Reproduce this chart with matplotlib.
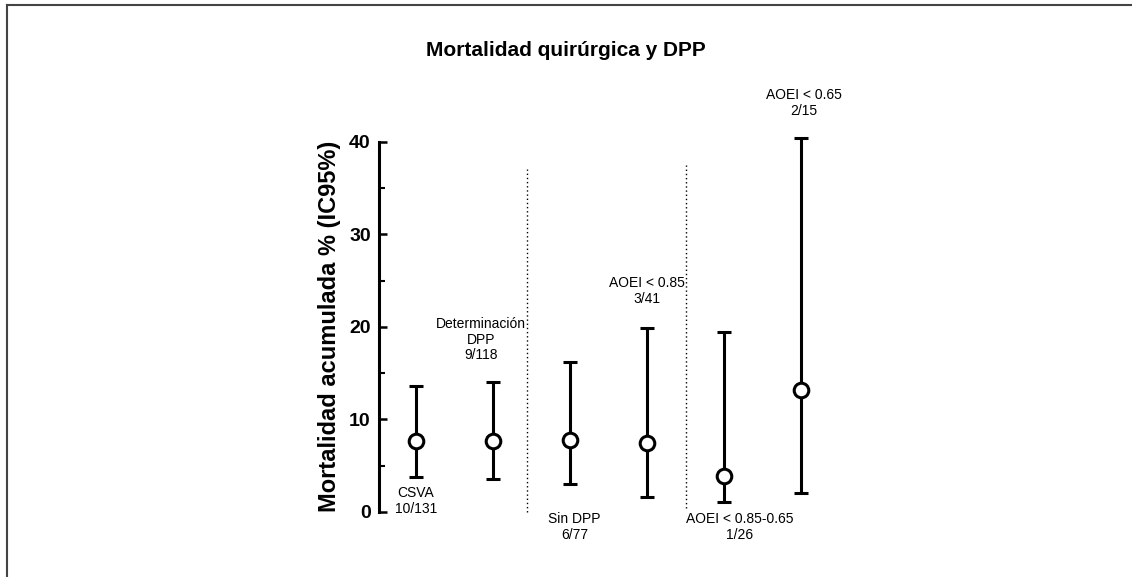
import matplotlib
matplotlib.use("Agg")
import matplotlib.pyplot as plt
from matplotlib.lines import Line2D

# datos
grupos = ["CSVA", "Determinación\nDPP", "Sin DPP", "AOEI < 0.85", "AOEI < 0.85-0.65", "AOEI < 0.65"]
casos = ["10/131", "9/118", "6/77", "3/41", "1/26", "2/15"]
mortalidad = [7.7, 7.7, 7.8, 7.4, 3.9, 13.2]
ic_inf = [3.8, 3.6, 3.0, 1.6, 1.1, 2.0]
ic_sup = [13.6, 14.0, 16.2, 19.9, 19.4, 40.4]

narrow = ["Liberation Sans Narrow", "Liberation Sans", "DejaVu Sans"]
arial = ["Liberation Sans", "DejaVu Sans"]

fig = plt.figure(figsize=(11.32, 5.77), dpi=100)
ax = fig.add_axes([379 / 1132, 65 / 577, 480 / 1132, 370.3 / 577])

x = list(range(1, len(grupos) + 1))
err = [[m - lo for m, lo in zip(mortalidad, ic_inf)],
       [hi - m for m, hi in zip(mortalidad, ic_sup)]]
ax.errorbar(x, mortalidad, yerr=err, fmt="o", color="black", ecolor="black",
            elinewidth=2.2, capsize=5, capthick=2.2, markersize=10.5,
            markerfacecolor="white", markeredgewidth=2.2, markeredgecolor="black",
            clip_on=False, zorder=3)

# separadores punteados
ax.plot([2.44, 2.44], [0, 37.1], ls=(0, (1, 2)), color="black", lw=1.0, clip_on=False)
ax.plot([4.51, 4.51], [0.4, 37.5], ls=(0, (1, 2)), color="black", lw=1.0, clip_on=False)

# etiquetas de grupo
pos = [(1.0, 1.2), (1.84, 18.6), (3.06, -1.6), (4.0, 23.9), (5.2, -1.6), (6.04, 44.2)]
for (px, py), g, c in zip(pos, grupos, casos):
    ax.text(px, py, g + "\n" + c, ha="center", va="center", fontsize=10,
            family=narrow, linespacing=1.15, clip_on=False)

ax.set_xlim(0.52, 0.52 + 480 / 77)
ax.set_ylim(0, 40)
ax.set_yticks([0, 10, 20, 30, 40])
ax.set_yticks([5, 15, 25, 35], minor=True)
ax.set_xticks([])
for s in ["top", "right", "bottom"]:
    ax.spines[s].set_visible(False)
ax.spines["left"].set_linewidth(2.2)
ax.tick_params(axis="y", which="major", direction="in", length=6, width=1.8, pad=6)
ax.tick_params(axis="y", which="minor", direction="in", length=4, width=1.5)
for t in ax.get_yticklabels():
    t.set_fontsize(14)
    t.set_fontweight("bold")
    t.set_family(arial)
ax.set_ylabel("Mortalidad acumulada % (IC95%)", fontsize=17, fontweight="bold",
              family=arial, labelpad=6)

fig.text(566 / 1132, 1 - 50 / 577, "Mortalidad quirúrgica y DPP", ha="center", va="center",
         fontsize=15, fontweight="bold", family=narrow)

# marco exterior
fig.add_artist(Line2D([7 / 1132, 1], [1 - 5 / 577, 1 - 5 / 577], color="#444444", lw=1.5,
                      transform=fig.transFigure))
fig.add_artist(Line2D([7 / 1132, 7 / 1132], [0, 1 - 5 / 577], color="#444444", lw=1.5,
                      transform=fig.transFigure))

fig.savefig("out.png", dpi=100)
